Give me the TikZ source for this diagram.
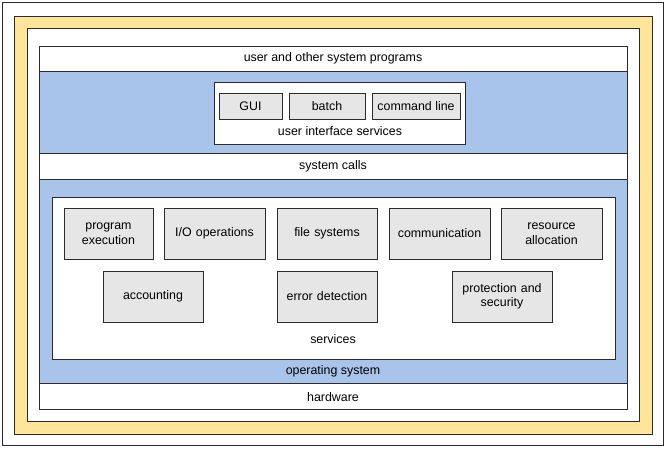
\documentclass[tikz,border=0pt]{standalone}
\usepackage{fontspec}
\setmainfont{Liberation Sans}
\definecolor{osblue}{HTML}{A9C4EB}
\definecolor{osyellow}{HTML}{FFE599}
\definecolor{osgray}{HTML}{E6E6E6}
\definecolor{osline}{HTML}{2B2B2B}
\begin{document}
\begin{tikzpicture}[x=1pt,y=-1pt,
  every node/.style={font=\fontsize{12.4}{14.5}\selectfont, inner sep=0pt, outer sep=0pt},
  frame/.style={draw=osline, line width=0.9pt, anchor=north west},
  whitebox/.style={frame, fill=white},
  bluebox/.style={frame, fill=osblue},
  yellowbox/.style={frame, fill=osyellow},
  svcbox/.style={frame, fill=osgray, align=center, text width=#1},
  svcbox/.default=90pt,
  lbl/.style={anchor=center, align=center}]
\useasboundingbox (0,0) rectangle (667,450);
\fill[white] (0,0) rectangle (667,450);
% outer frames
\node[whitebox, minimum width=661pt, minimum height=443pt] (outer) at (2,2) {};
\node[yellowbox, minimum width=638pt, minimum height=418pt] (yframe) at (14,16) {};
\node[whitebox, minimum width=612pt, minimum height=393pt] (inner) at (27,28) {};
% layers
\node[whitebox, minimum width=588pt, minimum height=25pt] (userprog) at (39,46) {};
\node[lbl] (userprogt) at (333,58.5) {user and other system programs};
\node[bluebox, minimum width=588pt, minimum height=82pt] (uiarea) at (39,71) {};
\node[whitebox, minimum width=588pt, minimum height=26pt] (syscalls) at (39,153) {};
\node[lbl] (syscallst) at (333,166) {system calls};
\node[bluebox, minimum width=588pt, minimum height=204pt] (os) at (39,179) {};
\node[lbl] (ost) at (333,371) {operating system};
\node[whitebox, minimum width=588pt, minimum height=26pt] (hw) at (39,383) {};
\node[lbl] (hwt) at (333,397) {hardware};
% user interface services
\node[whitebox, minimum width=251pt, minimum height=62pt] (uis) at (214,82) {};
\node[lbl] (uist) at (340,131) {user interface services};
\node[frame, fill=osgray, minimum width=63pt, minimum height=26pt] (gui) at (219,93) {GUI};
\node[frame, fill=osgray, minimum width=76pt, minimum height=26pt] (batch) at (289,93) {batch};
\node[frame, fill=osgray, minimum width=88pt, minimum height=26pt] (cmd) at (372,93) {command line};
% services
\node[whitebox, minimum width=563pt, minimum height=162pt] (svc) at (52,197) {};
\node[lbl] (svct) at (333,339) {services};
\node[svcbox, minimum width=89pt, minimum height=51pt, text width=85pt] (pe) at (64,208) {program\\execution};
\node[svcbox, minimum width=101pt, minimum height=51pt, text width=97pt] (io) at (164,208) {I/O operations};
\node[svcbox, minimum width=100pt, minimum height=51pt, text width=96pt] (fs) at (277,208) {file systems};
\node[svcbox, minimum width=101pt, minimum height=51pt, text width=97pt] (comm) at (389,208) {communication};
\node[svcbox, minimum width=101pt, minimum height=51pt, text width=97pt] (ra) at (501,208) {resource\\allocation};
\node[svcbox, minimum width=100pt, minimum height=51pt, text width=96pt] (acc) at (103,271) {accounting};
\node[svcbox, minimum width=100pt, minimum height=51pt, text width=96pt] (ed) at (277,271) {error detection};
\node[svcbox, minimum width=100pt, minimum height=51pt, text width=96pt] (ps) at (452,271) {protection and\\security};
\end{tikzpicture}
\end{document}
